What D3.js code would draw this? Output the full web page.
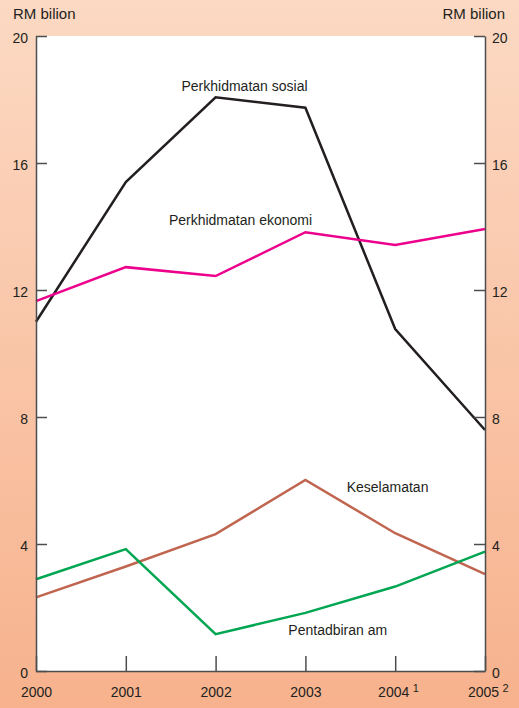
<!DOCTYPE html>
<html>
<head>
<meta charset="utf-8">
<script src="https://cdn.jsdelivr.net/npm/d3@7"></script>
<style>
  body { margin: 0; padding: 0; }
  svg { display: block; font-family: "Liberation Sans", Arial, sans-serif; }
  .axis path, .axis line { stroke: #4d4d4f; stroke-width: 1.5; }
  .axis text { font-size: 14px; fill: #231f20; }
  .series-label { font-size: 14px; fill: #231f20; }
</style>
</head>
<body>
<svg id="chart"></svg>
<script>
// Data
const years = [2000, 2001, 2002, 2003, 2004, 2005];
const yearNotes = {2004: '1', 2005: '2'};
const yTicks = [0, 4, 8, 12, 16, 20];

const sosial = [11.0, 15.4, 18.07, 17.74, 10.77, 7.59];
const ekonomi = [11.65, 12.72, 12.44, 13.82, 13.42, 13.92];
const keselamatan = [2.32, 3.29, 4.31, 6.02, 4.34, 3.05];
const pentadbiran = [2.89, 3.84, 1.16, 1.83, 2.66, 3.76];

const seriesNames = ['Perkhidmatan sosial', 'Perkhidmatan ekonomi', 'Keselamatan', 'Pentadbiran am'];
const seriesValues = [sosial, ekonomi, keselamatan, pentadbiran];
const seriesColors = ['#231f20', '#ec008c', '#c0654f', '#00a651'];
// label anchors, in data units (year, value)
const labelAt = [[2001.62, 18.28], [2001.48, 14.05], [2003.46, 5.65], [2002.81, 1.13]];

const config = {
  width: 519, height: 708,
  margin: {top: 36, right: 34, bottom: 37, left: 36}
};

const svg = d3.select('#chart')
    .attr('width', config.width)
    .attr('height', config.height);

// background gradient
const defs = svg.append('defs');
const grad = defs.append('linearGradient')
    .attr('id', 'bg')
    .attr('x1', 0).attr('y1', 0).attr('x2', 0).attr('y2', 1);
grad.append('stop').attr('offset', '0%').attr('stop-color', '#fcd9c3');
grad.append('stop').attr('offset', '100%').attr('stop-color', '#f7b28d');

svg.append('rect')
    .attr('width', config.width)
    .attr('height', config.height)
    .attr('fill', 'url(#bg)');

const innerW = config.width - config.margin.left - config.margin.right;
const innerH = config.height - config.margin.top - config.margin.bottom;

const chart = svg.append('g')
    .attr('transform', `translate(${config.margin.left},${config.margin.top})`);

chart.append('rect')
    .attr('width', innerW)
    .attr('height', innerH)
    .attr('fill', '#fff');

const xScale = d3.scaleLinear().domain([2000, 2005]).range([0, innerW]);
const yScale = d3.scaleLinear().domain([0, 20]).range([innerH, 0]);

// lines
const line = d3.line()
    .x((d, i) => xScale(years[i]))
    .y(d => yScale(d));

chart.selectAll('.series')
    .data(seriesValues)
    .join('path')
    .attr('class', 'series')
    .attr('fill', 'none')
    .attr('stroke', (d, i) => seriesColors[i])
    .attr('stroke-width', 2.5)
    .attr('stroke-linejoin', 'miter')
    .attr('d', line);

// axes
const yAxisL = d3.axisLeft(yScale).tickValues(yTicks).tickSize(-11).tickSizeOuter(0).tickPadding(8);
const yAxisR = d3.axisRight(yScale).tickValues(yTicks).tickSize(-11).tickSizeOuter(0).tickPadding(7);
const xAxis = d3.axisBottom(xScale).tickValues(years).tickFormat(d3.format('d'))
    .tickSize(-15).tickSizeOuter(0).tickPadding(16);

chart.append('g').attr('class', 'axis').call(yAxisL)
    .selectAll('text').attr('dy', '0.45em');
chart.append('g').attr('class', 'axis')
    .attr('transform', `translate(${innerW},0)`)
    .call(yAxisR)
    .selectAll('text').attr('dy', '0.45em');

const xAxisG = chart.append('g').attr('class', 'axis')
    .attr('transform', `translate(0,${innerH})`)
    .call(xAxis);
xAxisG.selectAll('.tick text').attr('dx', d => yearNotes[d] ? -2 : 0);
xAxisG.selectAll('.tick')
    .filter(d => yearNotes[d])
    .append('text')
    .attr('x', 17)
    .attr('y', 21)
    .attr('text-anchor', 'start')
    .attr('fill', '#231f20')
    .style('font-size', '11px')
    .text(d => yearNotes[d]);

// series labels
chart.selectAll('.series-label')
    .data(seriesNames)
    .join('text')
    .attr('class', 'series-label')
    .attr('x', (d, i) => xScale(labelAt[i][0]))
    .attr('y', (d, i) => yScale(labelAt[i][1]))
    .text(d => d);

// unit titles
svg.append('text')
    .attr('x', 13).attr('y', 19)
    .style('font-size', '15px').attr('fill', '#231f20')
    .text('RM bilion');
svg.append('text')
    .attr('x', 505).attr('y', 19)
    .attr('text-anchor', 'end')
    .style('font-size', '15px').attr('fill', '#231f20')
    .text('RM bilion');
</script>
</body>
</html>
